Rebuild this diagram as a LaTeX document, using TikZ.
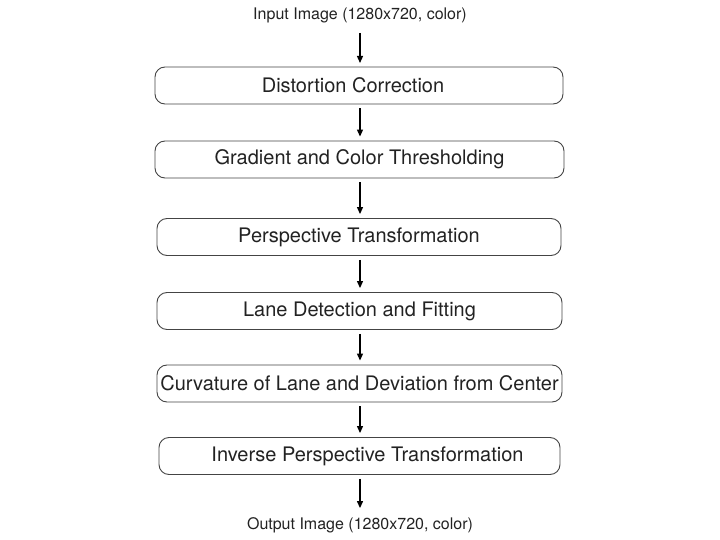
\documentclass[tikz,border=0pt]{standalone}
\usepackage{fontspec}
\setmainfont{TeX Gyre Heros}
\usetikzlibrary{arrows.meta}
\definecolor{txt}{HTML}{222222}
\definecolor{edge}{HTML}{444444}
\begin{document}
\begin{tikzpicture}[x=1pt,y=-1pt,
  stage/.style={draw=edge,line width=0.9pt,rounded corners=10pt,minimum height=37pt,
    inner sep=0pt,text=txt,font=\fontsize{20}{22}\selectfont},
  io/.style={text=txt,inner sep=0pt,font=\fontsize{16}{18}\selectfont},
  flow/.style={line width=1.2pt,draw=black,-{Triangle[length=7pt,width=6pt]}}]
\useasboundingbox (0,0) rectangle (720,540);
\node[io] (in) at (360,15) {Input Image (1280x720, color)};
\node[stage,minimum width=408pt] (s1) at (359,85.5) {\hspace*{-12pt}Distortion Correction};
\node[stage,minimum width=409pt] (s2) at (359.5,159.5) {Gradient and Color Thresholding};
\node[stage,minimum width=404pt] (s3) at (359,237) {Perspective Transformation};
\node[stage,minimum width=405pt] (s4) at (359.5,311) {Lane Detection and Fitting};
\node[stage,minimum width=405pt] (s5) at (359.5,383.5) {Curvature of Lane and Deviation from Center};
\node[stage,minimum width=401pt] (s6) at (359.5,456) {\hspace*{16pt}Inverse Perspective Transformation};
\node[io] (out) at (360,525) {Output Image (1280x720, color)};
\coordinate (a0) at (360,33);
\coordinate (b0) at (360,63);
\draw[flow] (a0) -- (b0);
\draw[flow] ([yshift=-4pt]s1.south -| 360,0) -- ([yshift=4pt]s2.north -| 360,0);
\draw[flow] ([yshift=-4pt]s2.south -| 360,0) -- ([yshift=4pt]s3.north -| 360,0);
\draw[flow] ([yshift=-4pt]s3.south -| 360,0) -- ([yshift=4pt]s4.north -| 360,0);
\draw[flow] ([yshift=-4pt]s4.south -| 360,0) -- ([yshift=4pt]s5.north -| 360,0);
\draw[flow] ([yshift=-4pt]s5.south -| 360,0) -- ([yshift=4pt]s6.north -| 360,0);
\draw[flow] ([yshift=-4pt]s6.south -| 360,0) -- ([yshift=9pt]out.north -| 360,0);
\end{tikzpicture}
\end{document}
